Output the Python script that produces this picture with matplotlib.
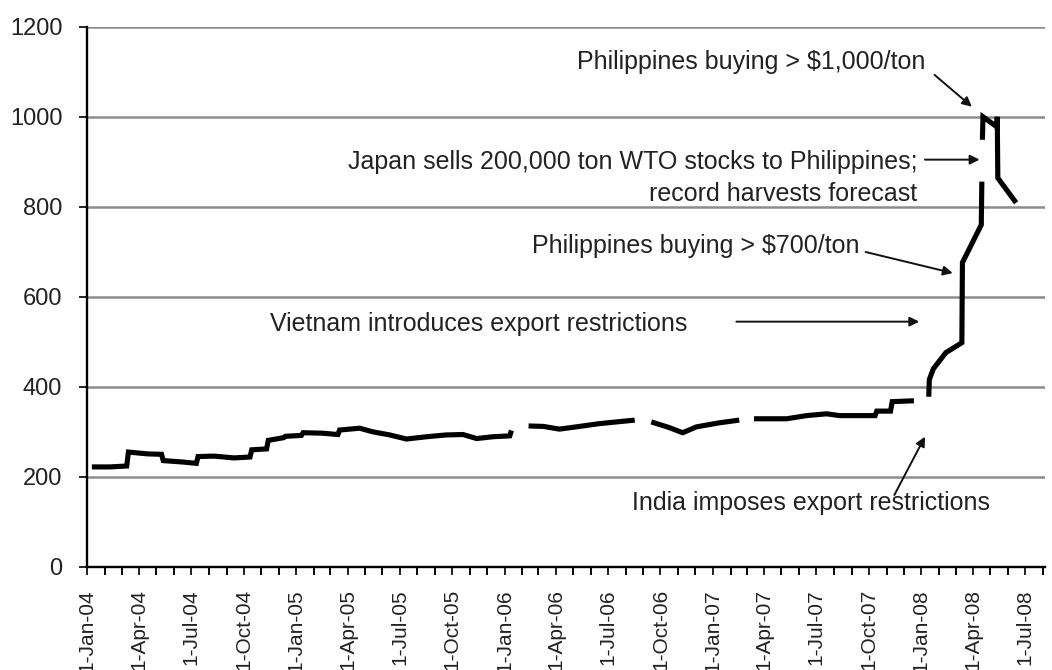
import numpy as np
import pandas as pd
import matplotlib
matplotlib.use('Agg')
import matplotlib.pyplot as plt
import matplotlib.dates as mdates
from matplotlib.ticker import FuncFormatter

plt.rcParams['font.family'] = ['Liberation Sans', 'DejaVu Sans']

# weekly rice export price (USD/ton), None marks breaks in the series
dates = [
    '2004-01-09', '2004-02-10', '2004-03-10', '2004-03-13', '2004-04-15', '2004-05-10',
    '2004-05-13', '2004-06-15', '2004-07-10', '2004-07-13', '2004-08-10', '2004-09-14',
    '2004-10-12', '2004-10-15', '2004-11-10', '2004-11-13', '2004-12-10', '2004-12-13',
    '2005-01-10', '2005-01-13', '2005-02-15', '2005-03-15', '2005-03-18', '2005-04-22',
    '2005-05-15', '2005-06-14', '2005-07-13', '2005-08-17', '2005-09-20', '2005-10-20',
    '2005-11-13', '2005-12-11', '2006-01-10', '2006-01-13', '2006-01-28',
    '2006-02-12', '2006-03-10', '2006-04-07', '2006-05-18', '2006-06-15', '2006-07-16',
    '2006-08-17', '2006-09-01',
    '2006-09-15', '2006-10-15', '2006-11-09', '2006-12-03', '2007-01-12', '2007-02-16',
    '2007-03-01',
    '2007-03-14', '2007-05-10', '2007-06-14', '2007-07-19', '2007-08-11', '2007-10-12',
    '2007-10-15', '2007-11-08', '2007-11-11', '2007-12-19', '2008-01-01',
    '2008-01-14', '2008-01-15', '2008-01-22', '2008-02-13', '2008-03-12', '2008-03-13',
    '2008-04-15', '2008-04-16', '2008-04-16T12:00',
    '2008-04-17', '2008-04-18', '2008-05-12', '2008-05-13', '2008-05-14', '2008-06-15',
]
prices = [
    222, 222, 224, 255, 251, 250,
    236, 233, 230, 245, 246, 242,
    244, 260, 262, 281, 287, 290,
    292, 298, 297, 294, 304, 308,
    300, 293, 284, 289, 293, 294,
    285, 289, 291, 303, None,
    313, 312, 306, 313, 318, 322,
    326, None,
    322, 310, 298, 311, 320, 326,
    None,
    329, 329, 336, 340, 336, 336,
    346, 346, 367, 369, None,
    378, 416, 440, 476, 498, 676,
    760, 856, None,
    949, 1000, 978, 1000, 864, 809,
]

yticks = [0, 200, 400, 600, 800, 1000, 1200]

x = pd.to_datetime(dates, format='ISO8601')
y = np.array([np.nan if p is None else p for p in prices], dtype=float)

fig = plt.figure(figsize=(10.52, 6.70), dpi=100)
ax = fig.add_axes([0.083, 0.154, 0.910, 0.806])

ax.plot(x, y, color='black', lw=3.7, solid_capstyle='butt', solid_joinstyle='miter')

ax.set_ylim(0, 1200)
ax.set_yticks(yticks)
ax.set_xlim(pd.Timestamp('2004-01-01'), pd.Timestamp('2008-08-04'))
ax.yaxis.grid(True, color='#8c8c8c', lw=1.8)
ax.set_axisbelow(True)

ax.xaxis.set_major_locator(mdates.MonthLocator(bymonth=[1, 4, 7, 10]))
ax.xaxis.set_minor_locator(mdates.MonthLocator())
ax.xaxis.set_major_formatter(FuncFormatter(
    lambda v, pos: '{}-{}'.format(mdates.num2date(v).day, mdates.num2date(v).strftime('%b-%y'))))

for s in ['top', 'right']:
    ax.spines[s].set_visible(False)
for s in ['left', 'bottom']:
    ax.spines[s].set_linewidth(1.7)
    ax.spines[s].set_color('black')

ax.tick_params(axis='y', labelsize=17, length=6, width=1.4, pad=12, colors='#222222')
ax.tick_params(axis='x', which='major', labelsize=15, length=6, width=1.4, rotation=90,
               pad=10, colors='#222222')
ax.tick_params(axis='x', which='minor', length=6, width=1.4)

tkw = dict(transform=ax.transAxes, fontsize=18, color='#222222', va='center')
ap = dict(arrowstyle='-|>', color='#111111', lw=1.4, mutation_scale=14, shrinkA=0, shrinkB=0)

ax.text(0.875, 0.935, 'Philippines buying > $1,000/ton', ha='right', **tkw)
ax.annotate('', xy=(0.924, 0.852), xytext=(0.885, 0.911),
            xycoords='axes fraction', textcoords='axes fraction', arrowprops=ap)

ax.text(0.867, 0.720, 'Japan sells 200,000 ton WTO stocks to Philippines;\nrecord harvests forecast',
        ha='right', multialignment='right', linespacing=1.45, **tkw)
ax.annotate('', xy=(0.932, 0.754), xytext=(0.875, 0.754),
            xycoords='axes fraction', textcoords='axes fraction', arrowprops=ap)

ax.text(0.807, 0.594, 'Philippines buying > $700/ton', ha='right', **tkw)
ax.annotate('', xy=(0.904, 0.544), xytext=(0.813, 0.583),
            xycoords='axes fraction', textcoords='axes fraction', arrowprops=ap)

ax.text(0.191, 0.45, 'Vietnam introduces export restrictions', ha='left', **tkw)
ax.annotate('', xy=(0.869, 0.454), xytext=(0.678, 0.454),
            xycoords='axes fraction', textcoords='axes fraction', arrowprops=ap)

ax.text(0.569, 0.119, 'India imposes export restrictions', ha='left', **tkw)
ax.annotate('', xy=(0.875, 0.241), xytext=(0.843, 0.133),
            xycoords='axes fraction', textcoords='axes fraction', arrowprops=ap)

fig.savefig('out.png', dpi=100)
